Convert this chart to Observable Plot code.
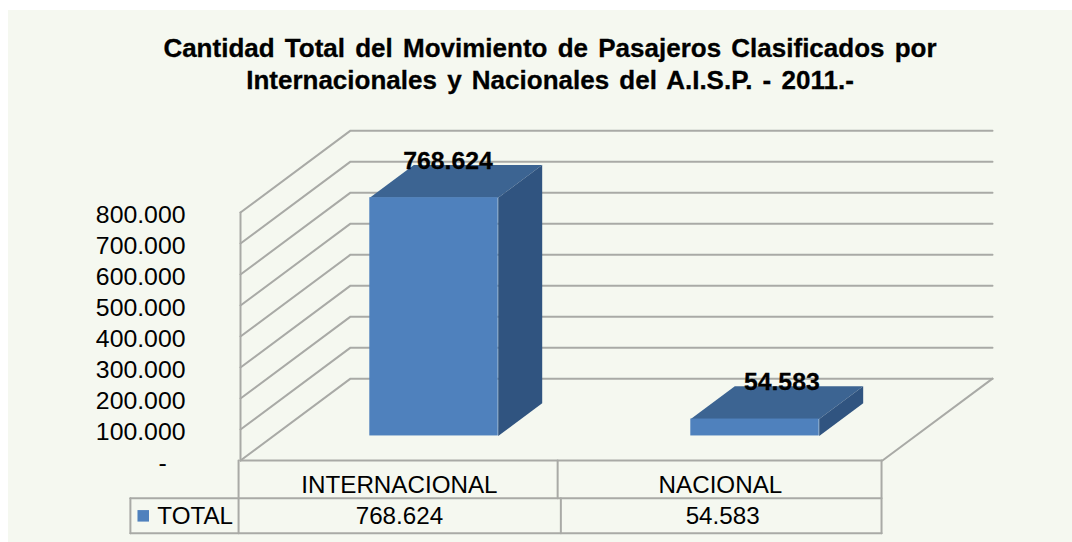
<!DOCTYPE html>
<html>
<head>
<meta charset="utf-8">
<script src="https://cdn.jsdelivr.net/npm/d3@7"></script>
<script src="https://cdn.jsdelivr.net/npm/@observablehq/plot@0.6"></script>
<style>
  html, body { margin: 0; padding: 0; background: #fff; width: 1072px; height: 542px; overflow: hidden; }
  #panel { position: absolute; left: 8px; top: 10px; right: 0; bottom: 0; background: #f5f8f0; }
  #wrap { position: absolute; left: 0; top: 0; width: 1072px; }
  #title { height: 100px; box-sizing: border-box; padding-top: 32px; padding-left: 28px; text-align: center;
           font: bold 26px/32px "Liberation Sans", Arial, sans-serif; color: #000; word-spacing: 3px;
           -webkit-text-stroke: 0.3px #000; }
  svg { display: block; background: transparent !important; }
</style>
</head>
<body>
<div id="panel"></div>
<div id="wrap">
  <div id="title">Cantidad Total del Movimiento de Pasajeros Clasificados por<br>Internacionales y Nacionales del A.I.S.P. - 2011.-</div>
  <div id="chart"></div>
</div>
<script>
const categories = ["INTERNACIONAL", "NACIONAL"];
const totals = [768624, 54583];
const totalLabels = ["768.624", "54.583"];
const yTicks = [0, 100000, 200000, 300000, 400000, 500000, 600000, 700000, 800000];
const legendLabel = "TOTAL";

// Layout of the 3D box, in the units of the x (category) and y (value) scales
const depthX = 0.3427, depthY = 264000;
const barStart = 0.3, barWidth = 0.4, barDepth0 = 0.3, barDepth1 = 0.7;
const labelShift = [-0.025, 0.015];
const labelLift = 65000;
const row1 = -122000, row2 = -235000;
const legendX = -0.343;
const tableLeft = -0.006;
const tableRight = 1.997;
const dividerRow1 = 0.988;
const valueCenters = [0.495, 1.502];

const P = (c, v, d) => ({x: c + d * depthX, y: v + d * depthY});
const poly = (id, pts, fill) => pts.map(p => ({...p, id, fill}));

const front = categories.map((c, i) => ({
  x1: P(i + barStart, 0, barDepth0).x, x2: P(i + barStart + barWidth, 0, barDepth0).x,
  y1: P(0, 0, barDepth0).y, y2: P(0, totals[i], barDepth0).y
}));
const faces = categories.flatMap((c, i) => {
  const a = i + barStart, b = a + barWidth, t = totals[i];
  return [
    ...poly("top" + i, [P(a, t, barDepth0), P(b, t, barDepth0), P(b, t, barDepth1), P(a, t, barDepth1)], "#3c6492"),
    ...poly("side" + i, [P(b, 0, barDepth0), P(b, t, barDepth0), P(b, t, barDepth1), P(b, 0, barDepth1)], "#305480")
  ];
});
const grid = yTicks.flatMap(v => [P(0, v, 0), P(0, v, 1), P(2, v, 1)].map(p => ({...p, id: v})));
const frameLines = [
  [P(0, 0, 0), P(0, 800000, 0)],
  [P(0, 0, 0), P(2, 0, 0), P(2, 0, 1)],
  [{x: tableLeft, y: 0}, {x: tableLeft, y: row2}],
  [{x: tableRight, y: 0}, {x: tableRight, y: row2}],
  [{x: dividerRow1, y: 0}, {x: dividerRow1, y: row1}],
  [{x: 0.998, y: row1}, {x: 0.998, y: row2}],
  [{x: legendX, y: row1}, {x: tableRight, y: row1}],
  [{x: legendX, y: row2}, {x: tableRight, y: row2}],
  [{x: legendX, y: row1}, {x: legendX, y: row2}]
].flatMap((l, i) => l.map(p => ({...p, id: i})));

const font = {fontFamily: "Liberation Sans, Arial, sans-serif", fontSize: 24.8, fill: "#000"};
const tableFont = {...font, fontSize: 24.2};
const midRow1 = row1 / 2, midRow2 = (row1 + row2) / 2;
const fmt = d => d === 0 ? "-\u00a0\u00a0\u2009" : d3.format(",")(d).replace(/,/g, ".");

const chart = Plot.plot({
  width: 1072,
  height: 442,
  marginLeft: 185, marginRight: 0, marginTop: 0, marginBottom: 0,
  style: {background: "transparent", overflow: "visible"},
  x: {domain: [0, 2], range: [240, 882], axis: null},
  y: {domain: [0, 800000], range: [360, 112], axis: null},
  marks: [
    Plot.axisY(yTicks, {anchor: "left", tickSize: 0, tickPadding: 0, tickFormat: fmt, dy: 3, ...font}),
    Plot.line(grid, {x: "x", y: "y", z: "id", stroke: "#a9aaa6", strokeWidth: 2}),
    Plot.line(frameLines, {x: "x", y: "y", z: "id", stroke: "#a9aaa6", strokeWidth: 2, curve: "linear"}),
    Plot.line(faces, {x: "x", y: "y", z: "id", fill: "fill", stroke: "none"}),
    Plot.rect(front, {x1: "x1", x2: "x2", y1: "y1", y2: "y2", fill: "#4f81bd"}),
    Plot.text(categories, {
      x: (d, i) => i + barStart + barWidth / 2 + 0.5 * depthX + labelShift[i],
      y: (d, i) => totals[i] + 0.5 * depthY + labelLift,
      text: (d, i) => totalLabels[i], ...font, fontWeight: "bold", stroke: "#000", strokeWidth: 0.3
    }),
    Plot.text(categories, {x: (d, i) => i + 0.495, y: midRow1, text: d => d, dy: 6, ...tableFont}),
    Plot.text(totalLabels, {x: (d, i) => valueCenters[i], y: midRow2, text: d => d, ...tableFont}),
    Plot.dot([legendLabel], {x: legendX + 0.04, y: midRow2, symbol: "square", r: 6.5, fill: "#4f81bd"}),
    Plot.text([legendLabel], {x: legendX + 0.084, y: midRow2, text: d => d, textAnchor: "start", ...tableFont})
  ]
});
document.getElementById("chart").appendChild(chart);
</script>
</body>
</html>
